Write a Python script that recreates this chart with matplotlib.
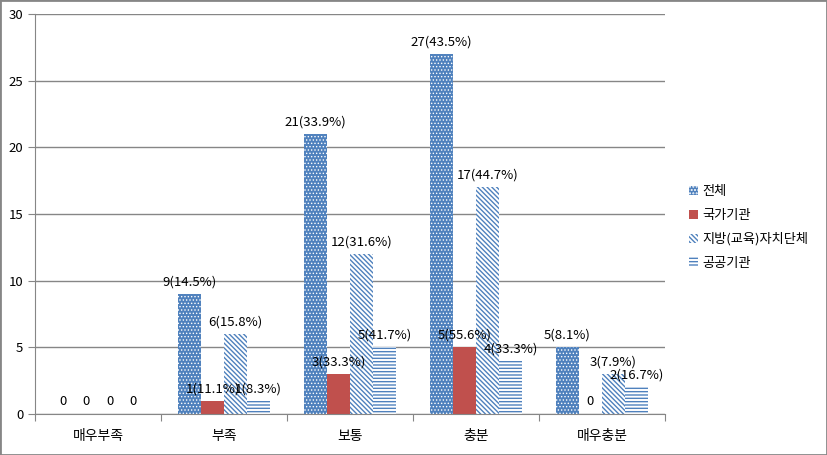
import matplotlib.pyplot as plt
from matplotlib.patches import Patch, Rectangle
import numpy as np

plt.rcParams['font.family'] = ['Noto Sans CJK KR', 'DejaVu Sans']

categories = ['매우부족', '부족', '보통', '충분', '매우충분']
series = ['전체', '국가기관', '지방(교육)자치단체', '공공기관']
total = [0, 9, 21, 27, 5]
total_pct = [0, 14.5, 33.9, 43.5, 8.1]
national = [0, 1, 3, 5, 0]
national_pct = [0, 11.1, 33.3, 55.6, 0]
local = [0, 6, 12, 17, 3]
local_pct = [0, 15.8, 31.6, 44.7, 7.9]
public = [0, 1, 5, 4, 2]
public_pct = [0, 8.3, 41.7, 33.3, 16.7]

blue = '#4F81BD'
red = '#C0504D'
grey = '#868686'

# face, hatch colour (edge), hatch pattern, hatch linewidth
styles = [
    (blue, 'white', '.....', 0.6),
    (red, red, None, 1.0),
    ('white', blue, '\\' * 7, 1.0),
    ('white', blue, '-----', 1.0),
]
values = [total, national, local, public]
pcts = [total_pct, national_pct, local_pct, public_pct]

fig = plt.figure(figsize=(8.27, 4.55), dpi=100)
ax = fig.add_axes([35 / 827, 41 / 455, 630 / 827, 400 / 455])

x = np.arange(len(categories))
w = 0.183
handles = []
for i, (vals, pc, (fc, ec, h, hlw)) in enumerate(zip(values, pcts, styles)):
    pos = x + (i - 1.5) * w
    with plt.rc_context({'hatch.linewidth': hlw}):
        ax.bar(pos, vals, width=w, color=fc, edgecolor=ec, hatch=h, linewidth=0)
        handles.append(Patch(facecolor=fc, edgecolor=ec, hatch=h, linewidth=0))
    for px, v, p in zip(pos, vals, pc):
        lab = f'{v}({p}%)' if v > 0 else '0'
        ax.annotate(lab, (px, v), xytext=(0, 4), textcoords='offset points',
                    ha='center', va='bottom', fontsize=9.5, color='black')

ax.set_xlim(-0.5, len(categories) - 0.5)
ax.set_ylim(0, 30)
ax.set_yticks(range(0, 31, 5))
ax.yaxis.grid(True, color=grey, linewidth=1)
ax.set_axisbelow(True)
for s in ['top', 'right']:
    ax.spines[s].set_visible(False)
for s in ['left', 'bottom']:
    ax.spines[s].set_color(grey)
ax.tick_params(axis='y', colors=grey, length=5, labelcolor='black', labelsize=9.5)

ax.set_xticks(np.arange(len(categories) + 1) - 0.5)
ax.set_xticklabels([])
ax.tick_params(axis='x', colors=grey, length=5)
ax.set_xticks(x, minor=True)
ax.set_xticklabels(categories, minor=True, fontsize=10)
ax.tick_params(axis='x', which='minor', length=0, pad=11)

fig.legend(handles, series, loc='center left', bbox_to_anchor=(0.819, 0.5),
           frameon=False, fontsize=9.5, handlelength=0.7, handleheight=0.7,
           handletextpad=0.3, labelspacing=0.8)

fig.patches.append(Rectangle((0, 0), 1, 1, transform=fig.transFigure,
                             fill=False, edgecolor=grey, linewidth=2))

fig.savefig('out.png', dpi=100)
